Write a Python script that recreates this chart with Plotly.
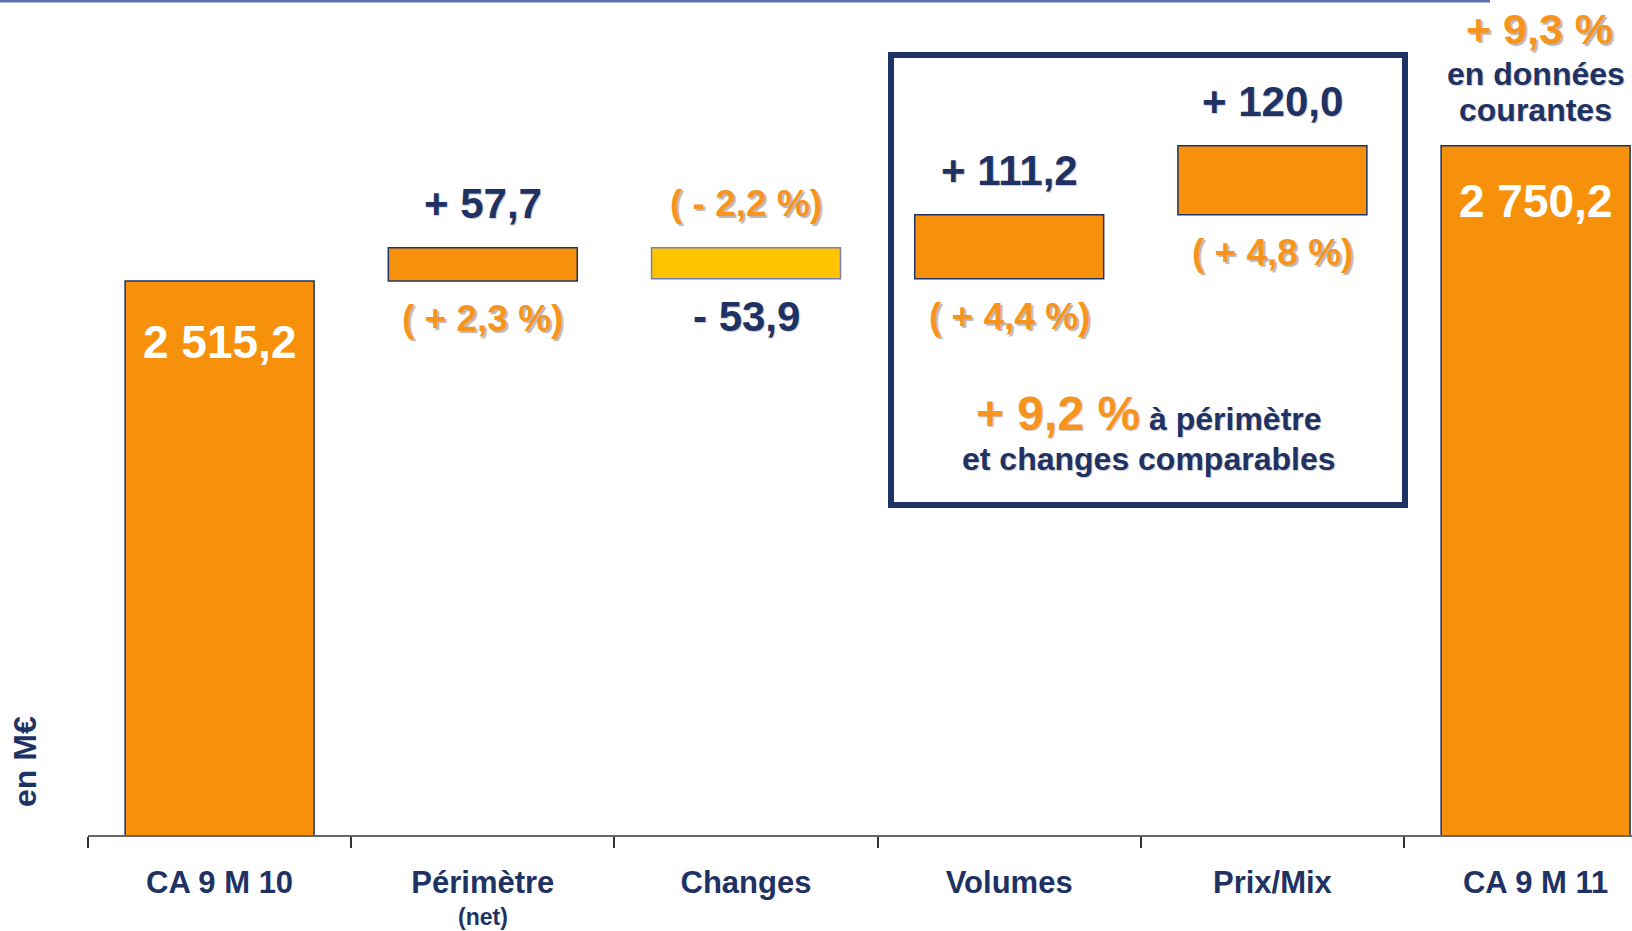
import plotly.graph_objects as go

# ---- data ----
categories = ["CA 9 M 10", "Périmètre", "Changes", "Volumes", "Prix/Mix", "CA 9 M 11"]
values = [2515.2, 57.7, -53.9, 111.2, 120.0, 2750.2]
measures = ["absolute", "relative", "relative", "relative", "relative", "total"]
pct_labels = ["", "( + 2,3 %)", "( - 2,2 %)", "( + 4,4 %)", "( + 4,8 %)", ""]
total_change_label = "+ 9,3 %"
total_change_text = ["en données", "courantes"]
like_for_like_label = "+ 9,2 %"
like_for_like_text = ["à périmètre", "et changes comparables"]
unit_label = "en M€"
sub_label_perimetre = "(net)"

# ---- style ----
NAVY = "#1F3264"
ORANGE = "#F7900A"
ORANGE_TXT = "#F7941E"
YELLOW = "#FFC400"
FONT = "Liberation Sans"
W, H = 1632, 931
ML, MB = 88, 96
PLOT_H = H - MB
PLOT_W = W - ML
CAT_W = 263.2
Y_RANGE = [1551, 3004]
SH_ORANGE = "2px 2px 1px #b8b8b8"
SH_NAVY = "1px 1px 1px #c8c8c8"


def fr(v, signed=False):
    s = f"{abs(v):,.1f}".replace(",", " ").replace(".", ",")
    if signed:
        return ("+ " if v >= 0 else "- ") + s
    return s


def px_x(px):
    return -0.5 + (px - ML) / CAT_W


def px_yp(py):
    return (PLOT_H - py) / PLOT_H


fig = go.Figure()
fig.add_trace(go.Waterfall(
    x=categories, y=values, measure=measures,
    width=0.718,
    connector=dict(visible=False),
    increasing=dict(marker=dict(color=ORANGE, line=dict(color=NAVY, width=1.5))),
    decreasing=dict(marker=dict(color=YELLOW, line=dict(color="#7b7fae", width=1.5))),
    totals=dict(marker=dict(color=ORANGE, line=dict(color=NAVY, width=1.5))),
    textinfo="none", hoverinfo="skip",
))

ann = []
level = 0.0
for i, (c, v, m) in enumerate(zip(categories, values, measures)):
    if m == "absolute":
        level = v
        ann.append(dict(x=c, y=level, text=fr(v), yshift=-61,
                        font=dict(size=46, color="white")))
    elif m == "total":
        ann.append(dict(x=c, y=level, text=fr(level), yshift=-55,
                        font=dict(size=46, color="white")))
        ann.append(dict(x=c, y=level, text=total_change_label, yshift=117, xshift=4,
                        font=dict(size=43, color=ORANGE_TXT, shadow=SH_ORANGE)))
        ann.append(dict(x=c, y=level, text=total_change_text[0], yshift=72,
                        font=dict(size=32, color=NAVY, shadow=SH_NAVY)))
        ann.append(dict(x=c, y=level, text=total_change_text[1], yshift=36,
                        font=dict(size=32, color=NAVY, shadow=SH_NAVY)))
    else:
        lo, hi = min(level, level + v), max(level, level + v)
        val_txt = dict(text=fr(v, signed=True), font=dict(size=42, color=NAVY, shadow=SH_NAVY))
        pct_txt = dict(text=pct_labels[i], font=dict(size=37, color=ORANGE_TXT, shadow=SH_ORANGE))
        top, bot = (val_txt, pct_txt) if v >= 0 else (pct_txt, val_txt)
        ann.append(dict(x=c, y=hi, yshift=44, **top))
        ann.append(dict(x=c, y=lo, yshift=-38, **bot))
        level += v

for a in ann:
    a.update(xref="x", yref="y", showarrow=False, yanchor="middle", xanchor="center")
    a["font"] = dict(family=FONT, weight="bold", **a["font"])

# box text
ann.append(dict(
    xref="x", yref="paper", x=px_x(1148.5), y=px_yp(413), showarrow=False,
    text=f"<span style='font-size:48px;color:{ORANGE_TXT}'>{like_for_like_label}</span> {like_for_like_text[0]}",
    font=dict(family=FONT, weight="bold", size=32, color=NAVY, shadow=SH_NAVY),
    xanchor="center", yanchor="middle"))
ann.append(dict(
    xref="x", yref="paper", x=px_x(1148), y=px_yp(459), showarrow=False,
    text=like_for_like_text[1],
    font=dict(family=FONT, weight="bold", size=32, color=NAVY, shadow=SH_NAVY),
    xanchor="center", yanchor="middle"))
# unit label
ann.append(dict(
    xref="paper", yref="paper", x=(25 - ML) / PLOT_W, y=px_yp(762),
    showarrow=False, text=unit_label, textangle=-90,
    font=dict(family=FONT, weight="bold", size=32, color=NAVY),
    xanchor="center", yanchor="middle"))
# (net)
ann.append(dict(
    xref="x", yref="paper", x=categories[1], y=px_yp(917), showarrow=False,
    text=sub_label_perimetre,
    font=dict(family=FONT, weight="bold", size=23, color=NAVY),
    xanchor="center", yanchor="middle"))

shapes = [
    dict(type="rect", xref="x", yref="paper", x0=px_x(891), x1=px_x(1405),
         y0=px_yp(505), y1=px_yp(55), line=dict(color=NAVY, width=6)),
    dict(type="line", xref="paper", yref="paper", x0=-ML / PLOT_W, x1=(1490 - ML) / PLOT_W,
         y0=px_yp(1), y1=px_yp(1), line=dict(color="#5a6db0", width=3)),
]

fig.update_layout(
    width=W, height=H,
    margin=dict(l=ML, r=0, t=0, b=MB),
    paper_bgcolor="white", plot_bgcolor="white",
    showlegend=False,
    annotations=ann, shapes=shapes,
    xaxis=dict(
        type="category", range=[-0.5, px_x(W)],
        showline=True, linecolor="#666666", linewidth=1.5,
        ticks="outside", tickson="boundaries", ticklen=11, tickwidth=1.5, tickcolor="#333333",
        tickfont=dict(family=FONT, weight="bold", size=31, color=NAVY),
        ticklabelstandoff=19,
        showgrid=False, zeroline=False, fixedrange=True,
    ),
    yaxis=dict(visible=False, range=Y_RANGE, showgrid=False, zeroline=False, fixedrange=True),
)

fig.write_html(
    "out.html",
    config={"displayModeBar": False},
    post_script="document.body.style.margin='0';document.body.style.overflow='hidden';",
)
